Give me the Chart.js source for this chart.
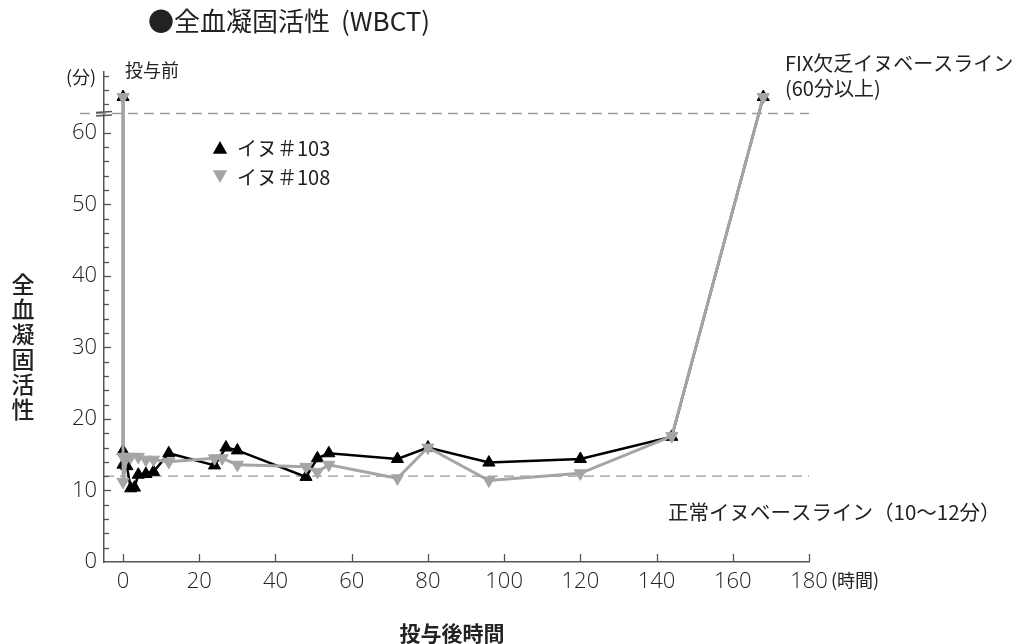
<!DOCTYPE html>
<html>
<head>
<meta charset="utf-8">
<script src="https://cdn.jsdelivr.net/npm/chart.js@4.4.1/dist/chart.umd.min.js"></script>
<style>
  html, body { margin: 0; padding: 0; background: #fff; }
  #wrap { width: 1020px; height: 644px; position: relative; }
</style>
</head>
<body>
<div id="wrap"><canvas id="c" width="1020" height="644"></canvas></div>
<script>
// Whole blood clotting time (WBCT), minutes, vs. hours after dosing.
// "Pre-dose" and ">60 min" readings are plotted at 65 above the axis break.
const hours103 = [0, 0, 0, 1, 2, 3, 4, 6, 8, 12, 24, 27, 30, 48, 51, 54, 72, 80, 96, 120, 144, 168];
const wbct103  = [65, 15.5, 13.6, 13.4, 10.3, 10.4, 12.2, 12.3, 12.6, 15.2, 13.5, 16.0, 15.6, 11.9, 14.5, 15.2, 14.4, 16.0, 13.9, 14.4, 17.5, 65];

const hours108 = [0, 0, 0, 1, 2, 4, 6, 8, 12, 24, 26, 30, 48, 51, 54, 72, 80, 96, 120, 144, 168];
const wbct108  = [65, 14.7, 11.2, 14.7, 14.7, 14.7, 14.3, 14.3, 14.0, 14.5, 14.5, 13.6, 13.3, 12.6, 13.6, 11.7, 16.0, 11.4, 12.4, 17.6, 65];

const seriesNames = ['イヌ＃103', 'イヌ＃108'];
const xTickValues = [0, 20, 40, 60, 80, 100, 120, 140, 160, 180];
const yTickValues = [0, 10, 20, 30, 40, 50, 60];

const normalBaseline = 12;      // normal dog baseline upper bound (min)
const deficientBaseline = 62.7; // FIX-deficient dog baseline (>60 min)
const axisBreakAt = 62.5;

const toPoints = (xs, ys) => xs.map((x, i) => ({ x: x, y: ys[i] }));

const TEXT = '#222';
const AXIS = '#555';
const GREY = '#a5a5a5';
const JP = '"Noto Sans CJK JP", "Noto Sans", sans-serif';
const NUM = '"Open Sans", "Noto Sans", sans-serif';

function tri(ctx, x, y, r, down) {
  const s = down ? -1 : 1;
  ctx.beginPath();
  ctx.moveTo(x, y - s * r);
  ctx.lineTo(x + r * 0.9, y + s * r * 0.6);
  ctx.lineTo(x - r * 0.9, y + s * r * 0.6);
  ctx.closePath();
  ctx.fill();
}

const decor = {
  id: 'decor',
  beforeDatasetsDraw(chart) {
    const { ctx, scales: { x, y }, chartArea: a } = chart;
    ctx.save();
    ctx.strokeStyle = '#9a9a9a';
    ctx.lineWidth = 1.3;
    ctx.setLineDash([10, 6]);
    let py = y.getPixelForValue(deficientBaseline);
    ctx.beginPath(); ctx.moveTo(a.left - 24, py); ctx.lineTo(a.right, py); ctx.stroke();
    py = y.getPixelForValue(normalBaseline);
    ctx.beginPath(); ctx.moveTo(a.left, py); ctx.lineTo(a.right, py); ctx.stroke();
    ctx.setLineDash([]);

    // inward tick marks
    ctx.strokeStyle = AXIS;
    ctx.lineWidth = 1.3;
    xTickValues.forEach(v => {
      const px = Math.round(x.getPixelForValue(v)) + 0.5;
      ctx.beginPath(); ctx.moveTo(px, a.bottom); ctx.lineTo(px, a.bottom - 8); ctx.stroke();
    });
    for (let v = 2; v <= 68; v += 2) {
      if (Math.abs(v - axisBreakAt) < 1) continue;
      const py2 = Math.round(y.getPixelForValue(v)) + 0.5;
      const len = v % 10 === 0 ? 7 : 5;
      ctx.beginPath(); ctx.moveTo(a.left, py2); ctx.lineTo(a.left + len, py2); ctx.stroke();
    }
    // axis break mark
    const pb = y.getPixelForValue(axisBreakAt);
    ctx.lineWidth = 1.5;
    ctx.beginPath();
    ctx.moveTo(a.left - 8, pb - 2.5); ctx.lineTo(a.left + 8, pb - 3.5);
    ctx.moveTo(a.left - 8, pb + 1); ctx.lineTo(a.left + 8, pb);
    ctx.stroke();
    ctx.restore();
  },
  afterDraw(chart) {
    const { ctx } = chart;
    ctx.save();
    ctx.fillStyle = TEXT;
    ctx.textBaseline = 'middle';

    // title
    ctx.font = '26px ' + JP;
    ctx.textAlign = 'left';
    ctx.fillText('●全血凝固活性', 148, 21);
    ctx.fillText('(WBCT)', 341, 21);

    // unit and annotations
    ctx.font = '18px ' + JP;
    ctx.fillText('(分)', 66, 77);
    ctx.font = '18px ' + JP;
    ctx.fillText('投与前', 125, 70);
    ctx.font = '20px ' + JP;
    ctx.fillText('FIX欠乏イヌベースライン', 785, 63);
    ctx.fillText('(60分以上)', 785, 88);
    ctx.font = '20.5px ' + JP;
    ctx.fillText('正常イヌベースライン（10～12分）', 668, 512);
    ctx.font = '18px ' + JP;
    ctx.fillText('(時間)', 831, 580);

    // axis titles
    ctx.font = 'bold 21px ' + JP;
    ctx.textAlign = 'center';
    ctx.fillText('投与後時間', 452, 633);
    ctx.font = '500 23px ' + JP;
    '全血凝固活性'.split('').forEach((ch, i) => ctx.fillText(ch, 23, 284 + i * 25));

    // legend
    ctx.textAlign = 'left';
    ctx.font = '20px ' + JP;
    ctx.fillStyle = '#000';
    tri(ctx, 220, 149, 8, false);
    ctx.fillStyle = TEXT;
    ctx.fillText(seriesNames[0], 237, 148);
    ctx.fillStyle = GREY;
    tri(ctx, 220, 175, 8, true);
    ctx.fillStyle = TEXT;
    ctx.fillText(seriesNames[1], 237, 177);
    ctx.restore();
  }
};

new Chart(document.getElementById('c'), {
  type: 'scatter',
  data: {
    datasets: [
      {
        label: seriesNames[0],
        data: toPoints(hours103, wbct103),
        showLine: true,
        borderColor: '#000',
        backgroundColor: '#000',
        borderWidth: 2.5,
        pointStyle: 'triangle',
        pointRadius: 7,
        pointBorderWidth: 1,
        order: 1
      },
      {
        label: seriesNames[1],
        data: toPoints(hours108, wbct108),
        showLine: true,
        borderColor: GREY,
        backgroundColor: GREY,
        borderWidth: 3,
        pointStyle: 'triangle',
        pointRotation: 180,
        pointRadius: 7,
        pointBorderWidth: 1,
        order: 0
      }
    ]
  },
  options: {
    responsive: false,
    animation: false,
    layout: { padding: { left: 0, right: 211, top: 72, bottom: 0 } },
    plugins: { legend: { display: false }, tooltip: { enabled: false } },
    scales: {
      x: {
        type: 'linear',
        min: -5,
        max: 180,
        afterFit(s) { s.height = 82; },
        afterBuildTicks(s) { s.ticks = xTickValues.map(v => ({ value: v })); },
        grid: { display: false, drawTicks: false },
        border: { display: true, color: AXIS, width: 1.5 },
        ticks: { padding: 7, color: TEXT, font: { family: NUM, size: 22, weight: 300 } }
      },
      y: {
        type: 'linear',
        min: 0,
        max: 68.5,
        afterFit(s) { s.width = 104; },
        afterBuildTicks(s) { s.ticks = yTickValues.map(v => ({ value: v })); },
        grid: { display: false, drawTicks: false },
        border: { display: true, color: AXIS, width: 1.5 },
        ticks: { padding: 7, color: TEXT, font: { family: NUM, size: 22, weight: 300 } }
      }
    }
  },
  plugins: [decor]
});
</script>
</body>
</html>
